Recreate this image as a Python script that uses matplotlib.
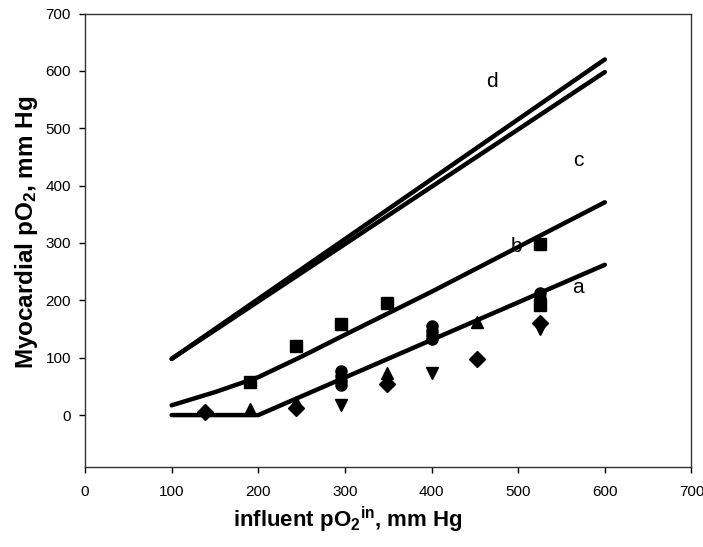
import matplotlib
matplotlib.use("Agg")
import matplotlib.pyplot as plt

plt.rcParams['font.family'] = ['Liberation Sans', 'DejaVu Sans']
plt.rcParams['mathtext.fontset'] = 'custom'
plt.rcParams['mathtext.rm'] = 'Liberation Sans:bold'
plt.rcParams['mathtext.it'] = 'Liberation Sans:bold'
plt.rcParams['mathtext.bf'] = 'Liberation Sans:bold'

# model curves
line_a_x = [100, 200, 600]
line_a_y = [0, 0, 262]
line_b_x = [100, 150, 200, 250, 300, 400, 500, 600]
line_b_y = [17, 40, 66, 102, 140, 215, 293, 371]
line_c_x = [100, 600]
line_c_y = [98, 598]
line_d_x = [100, 600]
line_d_y = [98, 620]

# measured data
squares_x = [190, 243, 296, 349, 525, 525]
squares_y = [57, 120, 158, 196, 298, 192]
circles_x = [296, 296, 296, 296, 400, 400, 400, 400, 525, 525]
circles_y = [76, 68, 60, 52, 155, 147, 140, 133, 212, 204]
tri_up_x = [190, 243, 349, 453]
tri_up_y = [10, 22, 73, 163]
tri_down_x = [296, 400, 525]
tri_down_y = [17, 73, 150]
diamonds_x = [138, 243, 349, 453, 525]
diamonds_y = [6, 12, 55, 97, 160]

curve_labels = ['a', 'b', 'c', 'd']
label_x = [569, 498, 569, 470]
label_y = [223, 293, 443, 581]

xticks = [0, 100, 200, 300, 400, 500, 600, 700]
yticks = [0, 100, 200, 300, 400, 500, 600, 700]

fig = plt.figure(figsize=(7.03, 5.47), dpi=100)
ax = fig.add_axes([0.1209, 0.1468, 0.8627, 0.8285])

for lx, ly in [(line_a_x, line_a_y), (line_b_x, line_b_y),
               (line_c_x, line_c_y), (line_d_x, line_d_y)]:
    ax.plot(lx, ly, color='black', lw=3.2, solid_capstyle='round', zorder=2)

ms = 8
ax.plot(squares_x, squares_y, 's', color='black', ms=ms, zorder=3)
ax.plot(circles_x, circles_y, 'o', color='black', ms=ms, zorder=3)
ax.plot(tri_up_x, tri_up_y, '^', color='black', ms=ms, zorder=3)
ax.plot(tri_down_x, tri_down_y, 'v', color='black', ms=ms, zorder=3)
ax.plot(diamonds_x, diamonds_y, 'D', color='black', ms=ms, zorder=3)

for t, x, y in zip(curve_labels, label_x, label_y):
    ax.text(x, y, t, fontsize=15, ha='center', va='center', color='black')

ax.set_xlim(0, 700)
ax.set_ylim(-90, 700)
ax.set_xticks(xticks)
ax.set_yticks(yticks)
ax.tick_params(axis='both', direction='out', length=4, width=1, labelsize=11)
ax.tick_params(axis='x', pad=9)
ax.tick_params(axis='y', pad=6)
for s in ax.spines.values():
    s.set_linewidth(1.0)
    s.set_color('#333333')

ax.set_xlabel(r"influent pO$_2$$^{in}$, mm Hg", fontsize=16, fontweight='bold')
ax.set_ylabel(r"Myocardial pO$_2$, mm Hg", fontsize=17.5, fontweight='bold')
ax.xaxis.set_label_coords(0.434, -0.084)
ax.yaxis.set_label_coords(-0.074, 0.518)

fig.savefig('out.png', dpi=100)
